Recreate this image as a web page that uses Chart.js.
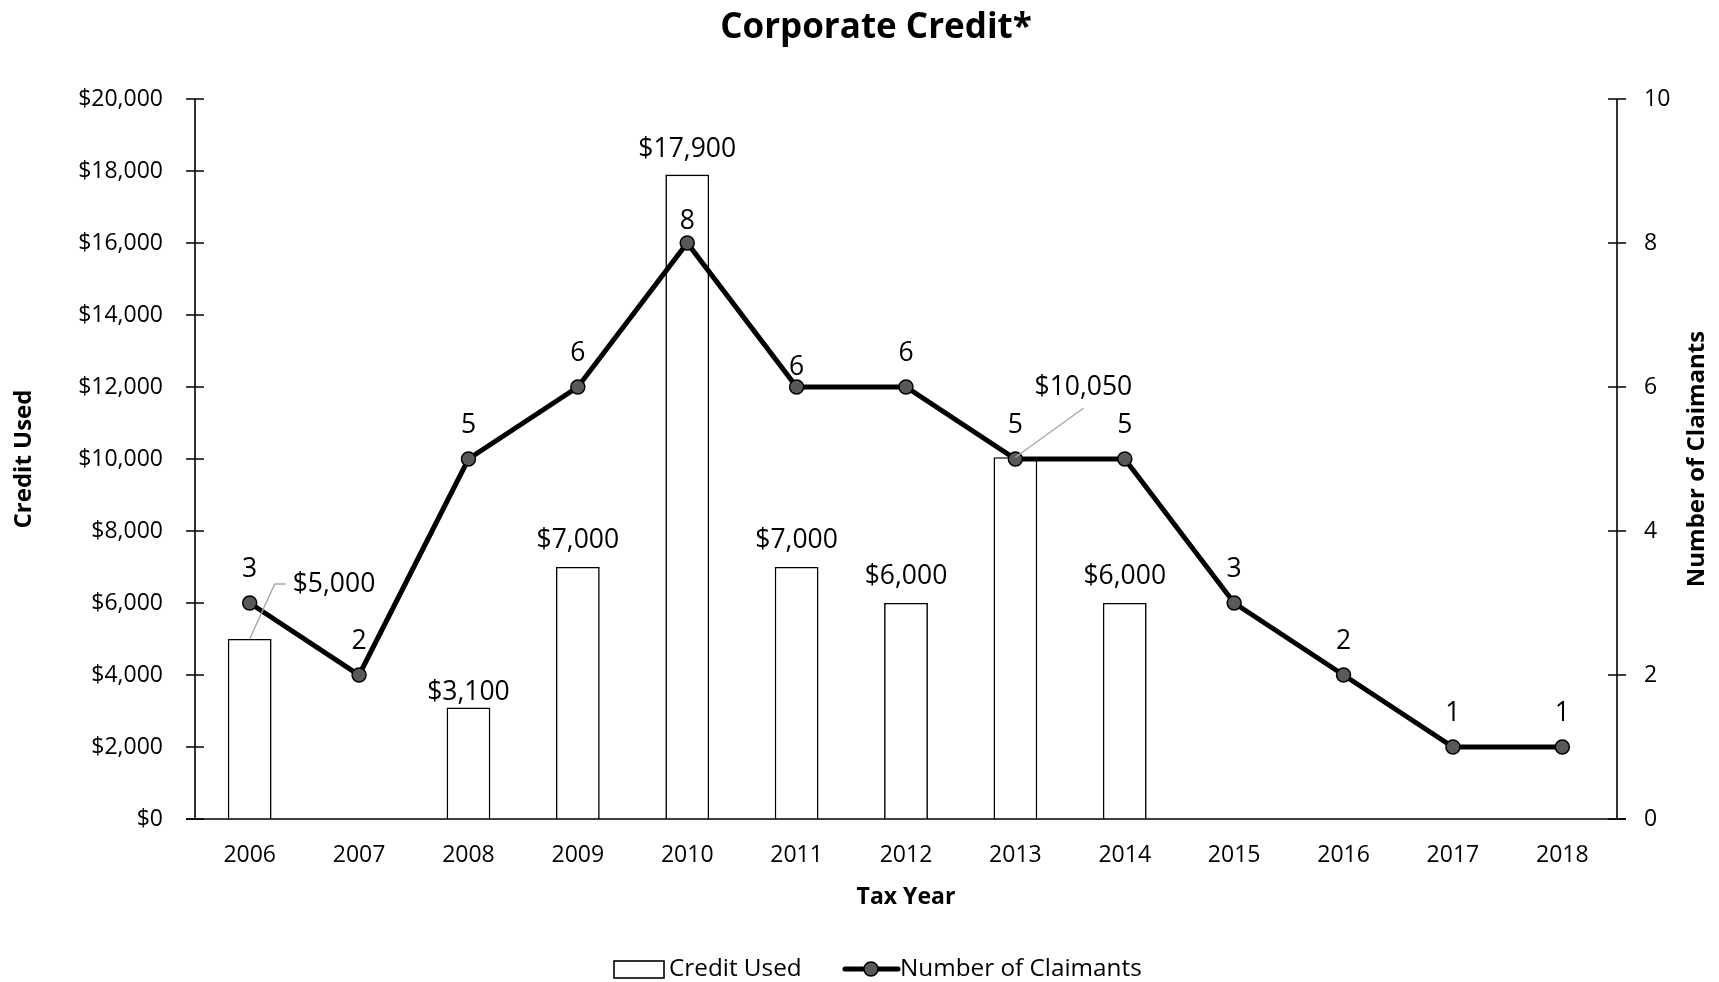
<!DOCTYPE html>
<html>
<head>
<meta charset="utf-8">
<script src="https://cdn.jsdelivr.net/npm/chart.js@4"></script>
<style>
  html, body { margin: 0; padding: 0; background: #fff; }
  #wrap { width: 1719px; height: 982px; }
</style>
</head>
<body>
<div id="wrap"><canvas id="c" width="1719" height="982"></canvas></div>
<script>
const years = ['2006','2007','2008','2009','2010','2011','2012','2013','2014','2015','2016','2017','2018'];
const creditUsed = [5000, null, 3100, 7000, 17900, 7000, 6000, 10050, 6000, null, null, null, null];
const claimants = [3, 2, 5, 6, 8, 6, 6, 5, 5, 3, 2, 1, 1];
const creditTicks = [0, 2000, 4000, 6000, 8000, 10000, 12000, 14000, 16000, 18000, 20000];
const claimantTicks = [0, 2, 4, 6, 8, 10];
const chartTitle = 'Corporate Credit*';
const rightTitle = 'Number of Claimants';

const FONT = "'Open Sans', 'Noto Sans', sans-serif";
const fmt = v => '$' + Number(v).toLocaleString('en-US');

// label placement (style only)
const callouts = {
  0: { dx: 43, dy: -55, align: 'left', leader: [[0,0],[25,-55],[36,-55]] },
  7: { dx: 68, dy: -70, align: 'center', leader: [[0,0],[68,-49]] }
};
const barLabelGap = { default: 27, 2: 15, 4: 25 };
const lineLabelGap = { default: 34, 4: 22, 5: 20 };

const decor = {
  id: 'decor',
  beforeDatasetsDraw(chart) {
    const ctx = chart.ctx, a = chart.chartArea;
    const y = chart.scales.y, y1 = chart.scales.y1;
    ctx.save();
    ctx.strokeStyle = '#000';
    ctx.lineWidth = 1.6;
    ctx.beginPath();
    ctx.moveTo(a.left, a.top); ctx.lineTo(a.left, a.bottom);
    ctx.moveTo(a.right, a.top); ctx.lineTo(a.right, a.bottom);
    ctx.stroke();
    ctx.beginPath();
    creditTicks.forEach(v => { const p = y.getPixelForValue(v); ctx.moveTo(a.left - 9, p); ctx.lineTo(a.left + 9, p); });
    claimantTicks.forEach(v => { const p = y1.getPixelForValue(v); ctx.moveTo(a.right - 9, p); ctx.lineTo(a.right + 9, p); });
    ctx.stroke();
    ctx.restore();
  },
  afterDatasetsDraw(chart) {
    const ctx = chart.ctx, a = chart.chartArea;
    ctx.save();
    // x axis baseline
    ctx.strokeStyle = '#000';
    ctx.lineWidth = 1.6;
    ctx.beginPath();
    ctx.moveTo(a.left - 9, a.bottom); ctx.lineTo(a.right + 9, a.bottom);
    ctx.stroke();

    ctx.font = '26.5px ' + FONT;
    ctx.fillStyle = '#000';
    ctx.textBaseline = 'middle';
    // bar labels
    const bm = chart.getDatasetMeta(0);
    bm.data.forEach((el, i) => {
      const v = creditUsed[i];
      if (v === null) return;
      const c = callouts[i];
      if (c) {
        ctx.strokeStyle = '#a6a6a6';
        ctx.lineWidth = 1.4;
        ctx.beginPath();
        c.leader.forEach((pt, k) => {
          const px = el.x + pt[0], py = el.y + pt[1];
          if (k === 0) ctx.moveTo(px, py); else ctx.lineTo(px, py);
        });
        ctx.stroke();
        ctx.textAlign = c.align;
        ctx.fillText(fmt(v), el.x + c.dx, el.y + c.dy);
      } else {
        ctx.textAlign = 'center';
        const g = barLabelGap[i] !== undefined ? barLabelGap[i] : barLabelGap.default;
        ctx.fillText(fmt(v), el.x, el.y - g);
      }
    });
    // line labels
    const lm = chart.getDatasetMeta(1);
    ctx.textAlign = 'center';
    lm.data.forEach((el, i) => {
      const g = lineLabelGap[i] !== undefined ? lineLabelGap[i] : lineLabelGap.default;
      ctx.fillText(String(claimants[i]), el.x, el.y - g);
    });

    // title
    ctx.font = 'bold 35px ' + FONT;
    ctx.textAlign = 'center';
    ctx.fillText(chartTitle, 876, 28);

    // right axis title (reads bottom to top)
    ctx.save();
    ctx.translate(1697, (a.top + a.bottom) / 2);
    ctx.rotate(-Math.PI / 2);
    ctx.font = 'bold 24px ' + FONT;
    ctx.fillText(rightTitle, 0, 0);
    ctx.restore();

    // legend
    ctx.font = '24.3px ' + FONT;
    ctx.textAlign = 'left';
    const ly = 969;
    ctx.strokeStyle = '#000';
    ctx.lineWidth = 1.6;
    ctx.fillStyle = '#fff';
    ctx.fillRect(614, 961, 50, 17);
    ctx.strokeRect(614, 961, 50, 17);
    ctx.fillStyle = '#000';
    ctx.fillText(chart.data.datasets[0].label, 669, ly);
    ctx.lineWidth = 5;
    ctx.lineCap = 'round';
    ctx.beginPath(); ctx.moveTo(845, ly); ctx.lineTo(898, ly); ctx.stroke();
    ctx.beginPath(); ctx.arc(871, ly, 7, 0, Math.PI * 2);
    ctx.fillStyle = '#595959'; ctx.fill();
    ctx.lineWidth = 1.5; ctx.stroke();
    ctx.fillStyle = '#000';
    ctx.fillText(chart.data.datasets[1].label, 900, ly);
    ctx.restore();
  }
};

new Chart(document.getElementById('c'), {
  data: {
    labels: years,
    datasets: [
      {
        type: 'bar', label: 'Credit Used', data: creditUsed, yAxisID: 'y',
        backgroundColor: '#ffffff', borderColor: '#000000', borderWidth: 1.6,
        barPercentage: 0.4, categoryPercentage: 1.0, order: 2
      },
      {
        type: 'line', label: 'Number of Claimants', data: claimants, yAxisID: 'y1',
        borderColor: '#000000', borderWidth: 5, tension: 0,
        pointRadius: 7, pointBackgroundColor: '#595959', pointBorderColor: '#000',
        pointBorderWidth: 1.5, order: 1
      }
    ]
  },
  options: {
    responsive: false,
    animation: false,
    devicePixelRatio: 1,
    layout: { padding: { left: 0, right: 0, top: 99, bottom: 63 } },
    plugins: {
      legend: { display: false },
      tooltip: { enabled: false },
      title: { display: false }
    },
    scales: {
      x: {
        grid: { display: false, drawTicks: false },
        border: { display: false },
        ticks: { color: '#000', font: { family: FONT, size: 23 }, padding: 23, maxRotation: 0 },
        title: { display: true, text: 'Tax Year', color: '#000',
          font: { family: FONT, size: 23, weight: 'bold', lineHeight: 1.2 }, padding: { top: 8, bottom: 8 } },
        afterFit: s => { s.height = 100; }
      },
      y: {
        position: 'left', min: 0, max: 20000,
        grid: { display: false, drawTicks: false },
        border: { display: false },
        ticks: { stepSize: 2000, color: '#000', font: { family: FONT, size: 23 }, padding: 32, callback: v => fmt(v) },
        title: { display: true, text: 'Credit Used', color: '#000',
          font: { family: FONT, size: 24, weight: 'bold', lineHeight: 1.2 }, padding: { top: 10, bottom: 10 } },
        afterFit: s => { s.width = 195; }
      },
      y1: {
        position: 'right', min: 0, max: 10,
        grid: { display: false, drawTicks: false },
        border: { display: false },
        ticks: { stepSize: 2, color: '#000', font: { family: FONT, size: 23 }, padding: 27 },
        title: { display: false },
        afterFit: s => { s.width = 102; }
      }
    }
  },
  plugins: [decor]
});
</script>
</body>
</html>
